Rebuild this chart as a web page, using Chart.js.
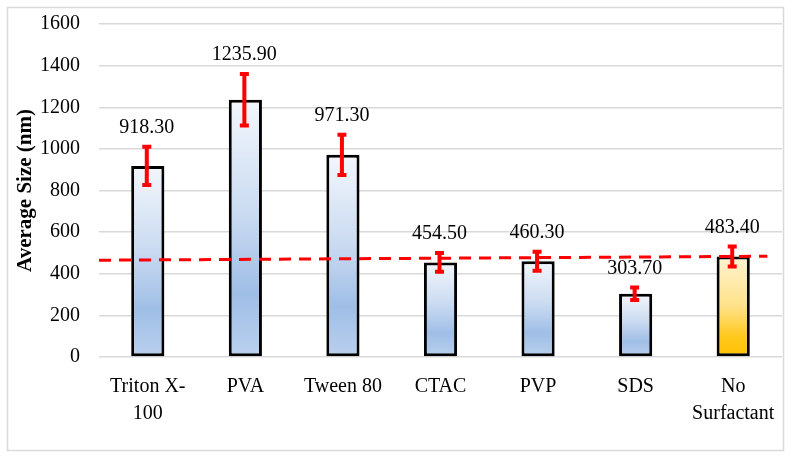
<!DOCTYPE html>
<html>
<head>
  <title>Average Size by Surfactant</title>
  <script src="https://cdn.jsdelivr.net/npm/chart.js"></script>
  <style>
    body { margin: 0; background: #fff; }
    .chart-container { width: 792px; height: 458px; }
  </style>
</head>
<body>
  <div class="chart-container">
    <canvas id="chartSize"></canvas>
  </div>
  <script>
    const categories = [['Triton X-', '100'], 'PVA', 'Tween 80', 'CTAC', 'PVP', 'SDS', ['No', 'Surfactant']];
    const sizes = [918.3, 1235.9, 971.3, 454.5, 460.3, 303.7, 483.4];
    const errors = [92, 124, 97, 45, 46, 30, 48];
    const sizeLabels = ['918.30', '1235.90', '971.30', '454.50', '460.30', '303.70', '483.40'];
    // dashed reference line, x in category units
    const refLineX = [-0.5, 6.35];
    const refLineY = [465, 484];

    const serif = '"Liberation Serif", "DejaVu Serif", serif';

    function barGradient(context) {
      const chart = context.chart;
      const area = chart.chartArea;
      if (!area) return null;
      const y = chart.scales.y;
      const top = y.getPixelForValue(sizes[context.dataIndex]);
      const bottom = y.getPixelForValue(0);
      const g = chart.ctx.createLinearGradient(0, top, 0, bottom);
      if (context.dataIndex === sizes.length - 1) {
        g.addColorStop(0, '#fff4d2');
        g.addColorStop(0.5, '#ffe188');
        g.addColorStop(0.8, '#ffc81c');
        g.addColorStop(1, '#ffc000');
      } else {
        g.addColorStop(0, '#f3f7fc');
        g.addColorStop(0.45, '#c9daf1');
        g.addColorStop(0.75, '#9fbee6');
        g.addColorStop(1, '#bad0ee');
      }
      return g;
    }

    const frame = {
      id: 'frame',
      beforeDraw(chart) {
        const ctx = chart.ctx;
        ctx.save();
        ctx.fillStyle = '#fff';
        ctx.fillRect(0, 0, chart.width, chart.height);
        ctx.strokeStyle = '#d9d9d9';
        ctx.lineWidth = 1.5;
        ctx.strokeRect(7.5, 7.5, 776, 443);
        ctx.restore();
      }
    };

    const errorBars = {
      id: 'errorBars',
      afterDatasetsDraw(chart) {
        const ctx = chart.ctx;
        const x = chart.scales.x;
        const y = chart.scales.y;
        ctx.save();
        ctx.strokeStyle = '#ff0000';
        ctx.lineWidth = 4;
        sizes.forEach((v, i) => {
          const px = x.getPixelForValue(i) - 1;
          const hi = y.getPixelForValue(v + errors[i]);
          const lo = y.getPixelForValue(v - errors[i]);
          ctx.beginPath();
          ctx.moveTo(px, hi);
          ctx.lineTo(px, lo);
          ctx.moveTo(px - 4.5, hi);
          ctx.lineTo(px + 4.5, hi);
          ctx.moveTo(px - 4.5, lo);
          ctx.lineTo(px + 4.5, lo);
          ctx.stroke();
          ctx.fillStyle = '#000';
          ctx.font = '20px ' + serif;
          ctx.textAlign = 'center';
          ctx.textBaseline = 'middle';
          ctx.fillText(sizeLabels[i], px, hi - 19);
        });
        ctx.restore();
      }
    };

    new Chart(document.getElementById('chartSize').getContext('2d'), {
      data: {
        labels: categories,
        datasets: [{
          type: 'line',
          label: 'Reference',
          data: refLineX.map((x, i) => ({ x: x, y: refLineY[i] })),
          xAxisID: 'x2',
          borderColor: '#ff0000',
          borderWidth: 3,
          borderDash: [12, 8],
          pointRadius: 0,
          fill: false,
          order: 0
        }, {
          type: 'bar',
          label: 'Average Size',
          data: sizes,
          xAxisID: 'x',
          backgroundColor: barGradient,
          borderColor: '#000',
          borderWidth: 3,
          borderSkipped: false,
          grouped: false,
          categoryPercentage: 1,
          barPercentage: 0.34,
          order: 1
        }]
      },
      options: {
        responsive: true,
        maintainAspectRatio: false,
        animation: false,
        layout: { padding: { left: 0, right: 10, top: 24, bottom: 0 } },
        plugins: {
          legend: { display: false },
          tooltip: { enabled: false }
        },
        scales: {
          x: {
            type: 'category',
            grid: { display: false },
            border: { display: false },
            ticks: {
              color: '#000',
              padding: 8,
              maxRotation: 0,
              autoSkip: false,
              font: { family: serif, size: 20, lineHeight: 1.35 }
            },
            afterFit(scale) { scale.height = 101; }
          },
          x2: {
            type: 'linear',
            display: false,
            min: -0.5,
            max: 6.5
          },
          y: {
            min: 0,
            max: 1600,
            ticks: {
              stepSize: 200,
              color: '#000',
              padding: 4,
              font: { family: serif, size: 20 },
              callback: v => String(v)
            },
            grid: { color: '#d9d9d9', lineWidth: 1.5, tickLength: 15, tickColor: 'rgba(0,0,0,0)' },
            border: { display: false },
            title: {
              display: true,
              text: 'Average Size (nm)',
              color: '#000',
              padding: { top: 13 },
              font: { family: serif, size: 21, weight: 'bold' }
            },
            afterFit(scale) { scale.width = 99; }
          }
        }
      },
      plugins: [frame, errorBars]
    });
  </script>
</body>
</html>
